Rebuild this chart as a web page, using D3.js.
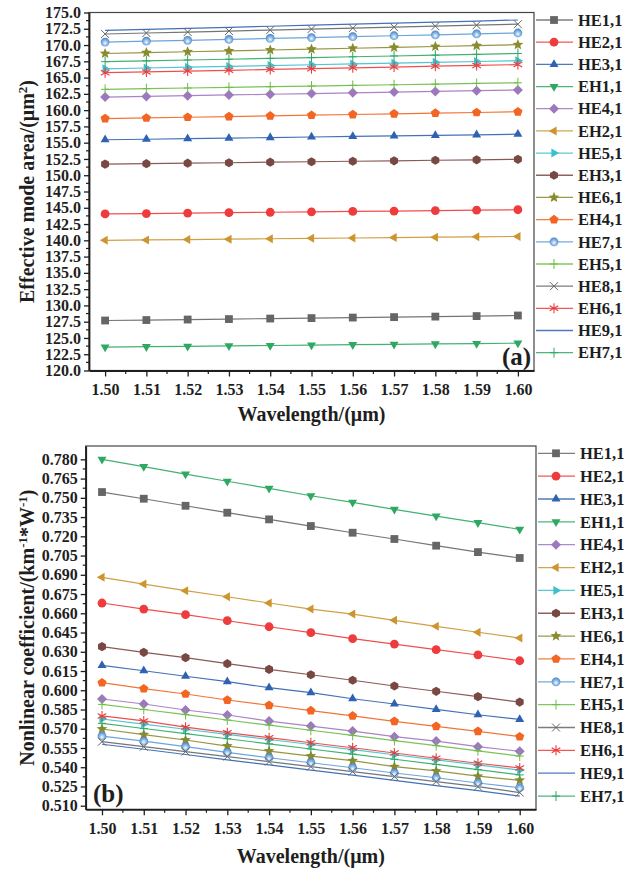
<!DOCTYPE html>
<html><head><meta charset="utf-8">
<script src="https://cdn.jsdelivr.net/npm/d3@7"></script>
<style>
html,body{margin:0;padding:0;background:#fff;}
svg{display:block;font-family:"Liberation Serif","Times New Roman",serif;font-weight:bold;}
</style></head><body>
<svg id="c" width="626" height="871"></svg>
<script>
// ---------- data ----------
const wavelengths = [1.50,1.51,1.52,1.53,1.54,1.55,1.56,1.57,1.58,1.59,1.60];
const modeNames = ["HE1,1","HE2,1","HE3,1","EH1,1","HE4,1","EH2,1","HE5,1","EH3,1","HE6,1","EH4,1","HE7,1","EH5,1","HE8,1","EH6,1","HE9,1","EH7,1"];

// (a) effective mode area (um^2)
const areaHE1 = [127.68,127.75,127.83,127.90,127.98,128.05,128.13,128.20,128.28,128.36,128.45];
const areaHE2 = [144.05,144.11,144.18,144.24,144.31,144.37,144.44,144.50,144.57,144.63,144.70];
const areaHE3 = [155.45,155.53,155.62,155.70,155.79,155.87,155.96,156.04,156.13,156.21,156.30];
const areaEH1 = [123.60,123.66,123.72,123.78,123.84,123.90,123.96,124.02,124.08,124.14,124.20];
const areaHE4 = [162.00,162.11,162.22,162.33,162.44,162.55,162.66,162.77,162.88,162.99,163.10];
const areaEH2 = [140.00,140.06,140.12,140.18,140.24,140.30,140.36,140.42,140.48,140.54,140.60];
const areaHE5 = [166.35,166.47,166.60,166.72,166.85,166.97,167.10,167.22,167.35,167.47,167.60];
const areaEH3 = [151.70,151.77,151.85,151.92,152.00,152.07,152.15,152.22,152.30,152.37,152.45];
const areaHE6 = [168.70,168.83,168.97,169.10,169.24,169.37,169.51,169.64,169.78,169.91,170.05];
const areaEH4 = [158.70,158.80,158.91,159.01,159.12,159.22,159.33,159.43,159.54,159.64,159.75];
const areaHE7 = [170.45,170.59,170.73,170.87,171.01,171.15,171.29,171.43,171.57,171.71,171.85];
const areaEH5 = [163.20,163.30,163.40,163.50,163.60,163.70,163.80,163.90,164.00,164.10,164.20];
const areaHE8 = [171.70,171.85,172.00,172.15,172.30,172.45,172.60,172.75,172.90,173.05,173.20];
const areaEH6 = [165.75,165.87,166.00,166.12,166.25,166.37,166.50,166.62,166.75,166.87,167.00];
const areaHE9 = [172.25,172.41,172.57,172.73,172.89,173.05,173.21,173.37,173.53,173.69,173.85];
const areaEH7 = [167.45,167.57,167.70,167.82,167.95,168.07,168.20,168.32,168.45,168.57,168.70];

// (b) nonlinear coefficient (km^-1 W^-1)
const gammaHE1 = [0.7545,0.7493,0.7438,0.7384,0.7332,0.7280,0.7228,0.7179,0.7127,0.7077,0.7031];
const gammaHE2 = [0.6680,0.6633,0.6589,0.6542,0.6495,0.6449,0.6402,0.6360,0.6316,0.6275,0.6230];
const gammaHE3 = [0.6194,0.6152,0.6109,0.6067,0.6020,0.5981,0.5934,0.5893,0.5851,0.5809,0.5773];
const gammaEH1 = [0.7800,0.7743,0.7685,0.7629,0.7574,0.7516,0.7465,0.7410,0.7358,0.7306,0.7254];
const gammaHE4 = [0.5932,0.5893,0.5846,0.5807,0.5760,0.5721,0.5682,0.5638,0.5604,0.5560,0.5524];
const gammaEH2 = [0.6880,0.6828,0.6776,0.6729,0.6680,0.6633,0.6594,0.6545,0.6498,0.6452,0.6407];
const gammaHE5 = [0.5776,0.5736,0.5696,0.5656,0.5616,0.5577,0.5537,0.5497,0.5458,0.5418,0.5378];
const gammaEH3 = [0.6340,0.6296,0.6254,0.6207,0.6163,0.6121,0.6078,0.6033,0.5992,0.5950,0.5908];
const gammaHE6 = [0.5698,0.5654,0.5612,0.5565,0.5526,0.5487,0.5451,0.5404,0.5371,0.5330,0.5298];
const gammaEH4 = [0.6059,0.6012,0.5971,0.5924,0.5883,0.5841,0.5800,0.5758,0.5719,0.5680,0.5638];
const gammaHE7 = [0.5643,0.5604,0.5560,0.5516,0.5474,0.5435,0.5396,0.5355,0.5318,0.5277,0.5240];
const gammaEH5 = [0.5890,0.5850,0.5810,0.5768,0.5728,0.5688,0.5648,0.5608,0.5568,0.5528,0.5487];
const gammaHE8 = [0.5599,0.5560,0.5522,0.5483,0.5444,0.5405,0.5366,0.5327,0.5288,0.5249,0.5202];
const gammaEH6 = [0.5800,0.5761,0.5712,0.5669,0.5630,0.5591,0.5552,0.5511,0.5470,0.5431,0.5394];
const gammaHE9 = [0.5579,0.5540,0.5499,0.5458,0.5418,0.5378,0.5338,0.5297,0.5257,0.5217,0.5175];
const gammaEH7 = [0.5742,0.5702,0.5662,0.5622,0.5582,0.5542,0.5502,0.5462,0.5422,0.5381,0.5340];

const areaTicks = [120.0,122.5,125.0,127.5,130.0,132.5,135.0,137.5,140.0,142.5,145.0,147.5,150.0,152.5,155.0,157.5,160.0,162.5,165.0,167.5,170.0,172.5,175.0];
const gammaTicks = [0.510,0.525,0.540,0.555,0.570,0.585,0.600,0.615,0.630,0.645,0.660,0.675,0.690,0.705,0.720,0.735,0.750,0.765,0.780];

// ---------- styles ----------
const modeColors = ["#666666","#ee3b3b","#2f62b0","#2ea862","#9e78be","#cc9530","#3cc0cc","#7a4842","#8a8a2e","#f26522","#5b9bd5","#6cbd45","#666666","#ee3b3b","#2f62b0","#2ea862"];
const modeMarkers = ["square","circle","triUp","triDown","diamond","triLeft","triRight","hexagon","star","pentagon","sphere","plus","cross","asterisk","none","plus"];

const areaSeries = [areaHE1,areaHE2,areaHE3,areaEH1,areaHE4,areaEH2,areaHE5,areaEH3,areaHE6,areaEH4,areaHE7,areaEH5,areaHE8,areaEH6,areaHE9,areaEH7];
const gammaSeries = [gammaHE1,gammaHE2,gammaHE3,gammaEH1,gammaHE4,gammaEH2,gammaHE5,gammaEH3,gammaHE6,gammaEH4,gammaHE7,gammaEH5,gammaHE8,gammaEH6,gammaHE9,gammaEH7];

const svg = d3.select("#c");
const defs = svg.append("defs");
const grad = defs.append("radialGradient").attr("id","sph").attr("cx","50%").attr("cy","58%").attr("r","60%").attr("fx","50%").attr("fy","62%");
grad.append("stop").attr("offset","0%").attr("stop-color","#ffffff");
grad.append("stop").attr("offset","40%").attr("stop-color","#9cc4ec");
grad.append("stop").attr("offset","100%").attr("stop-color","#3f7ec0");

function poly(n, r, rot){
  const pts = [];
  for(let k=0;k<n;k++){const a = rot + k*2*Math.PI/n; pts.push([r*Math.cos(a), r*Math.sin(a)]);}
  return "M"+pts.map(p=>p[0].toFixed(2)+","+p[1].toFixed(2)).join("L")+"Z";
}
function starPath(r){
  const pts=[];
  for(let k=0;k<10;k++){const a=-Math.PI/2+k*Math.PI/5; const rr=(k%2===0)?r:r*0.45; pts.push([rr*Math.cos(a),rr*Math.sin(a)]);}
  return "M"+pts.map(p=>p[0].toFixed(2)+","+p[1].toFixed(2)).join("L")+"Z";
}
function drawMarker(g, type, color, cx, cy){
  const t = `translate(${cx},${cy})`;
  const r = 4.2;
  switch(type){
    case "square": g.append("rect").attr("x",cx-3.9).attr("y",cy-3.9).attr("width",7.8).attr("height",7.8).attr("fill",color); break;
    case "circle": g.append("circle").attr("cx",cx).attr("cy",cy).attr("r",4.4).attr("fill",color); break;
    case "sphere": g.append("circle").attr("cx",cx).attr("cy",cy).attr("r",4.4).attr("fill","url(#sph)"); break;
    case "triUp": g.append("path").attr("transform",t).attr("d",poly(3,5.2,-Math.PI/2)).attr("fill",color); break;
    case "triDown": g.append("path").attr("transform",t).attr("d",poly(3,5.2,Math.PI/2)).attr("fill",color); break;
    case "triLeft": g.append("path").attr("transform",t).attr("d",poly(3,5.2,Math.PI)).attr("fill",color); break;
    case "triRight": g.append("path").attr("transform",t).attr("d",poly(3,5.2,0)).attr("fill",color); break;
    case "diamond": g.append("path").attr("transform",t).attr("d",poly(4,5.0,0)).attr("fill",color); break;
    case "hexagon": g.append("path").attr("transform",t).attr("d",poly(6,4.6,Math.PI/6)).attr("fill",color); break;
    case "pentagon": g.append("path").attr("transform",t).attr("d",poly(5,4.8,-Math.PI/2)).attr("fill",color); break;
    case "star": g.append("path").attr("transform",t).attr("d",starPath(5.6)).attr("fill",color); break;
    case "plus": g.append("path").attr("transform",t).attr("d","M0,-5V5M-4,0H4").attr("stroke",color).attr("stroke-width",1).attr("fill","none"); break;
    case "cross": g.append("path").attr("transform",t).attr("d","M-4,-4L4,4M-4,4L4,-4").attr("stroke",color).attr("stroke-width",1).attr("fill","none"); break;
    case "asterisk": g.append("path").attr("transform",t).attr("d","M0,-5V5M-4.3,-2.5L4.3,2.5M-4.3,2.5L4.3,-2.5").attr("stroke",color).attr("stroke-width",1.1).attr("fill","none"); break;
    default: break;
  }
}

function panel(o){
  const x = d3.scaleLinear().domain([1.4961,1.6039]).range([o.left,o.right]);
  const y = d3.scaleLinear().domain(o.yDomain).range([o.bottom,o.top]);
  const g = svg.append("g");
  const ink = "#1e1e1e";

  // series
  const line = d3.line().x(d=>x(d.w)).y(d=>y(d.v));
  o.series.forEach((vals,i)=>{
    const pts = wavelengths.map((w,j)=>({w:w,v:vals[j]}));
    g.append("path").datum(pts).attr("d",line).attr("fill","none").attr("stroke",modeColors[i]).attr("stroke-width",1.2).attr("stroke-opacity",0.9);
  });
  o.series.forEach((vals,i)=>{
    wavelengths.forEach((w,j)=>drawMarker(g, modeMarkers[i], modeColors[i], x(w), y(vals[j])));
  });

  // frame
  g.append("rect").attr("x",o.left).attr("y",o.top).attr("width",o.right-o.left).attr("height",o.bottom-o.top)
    .attr("fill","none").attr("stroke","#444").attr("stroke-width",1.2);

  // axes
  const xa = g.append("g").attr("transform",`translate(0,${o.bottom})`)
    .call(d3.axisBottom(x).tickValues(wavelengths).tickFormat(d3.format(".2f")).tickSize(6).tickPadding(4).tickSizeOuter(0));
  const ya = g.append("g").attr("transform",`translate(${o.left},0)`)
    .call(d3.axisLeft(y).tickValues(o.ticks).tickFormat(d3.format(o.fmt)).tickSize(5).tickPadding(3).tickSizeOuter(0));
  [xa,ya].forEach(a=>{
    a.select(".domain").attr("stroke",ink).attr("stroke-width",1.8);
    a.selectAll(".tick line").attr("stroke",ink).attr("stroke-width",1.3);
    a.selectAll(".tick text").attr("fill",ink).attr("font-size",16).attr("font-family","Liberation Serif").attr("font-weight","bold");
  });
  xa.selectAll(".tick text").attr("dy","0.9em");
  // minor ticks
  const xm = d3.pairs(wavelengths).map(p=>(p[0]+p[1])/2);
  g.append("g").selectAll("line").data(xm).join("line")
    .attr("x1",d=>x(d)).attr("x2",d=>x(d)).attr("y1",o.bottom).attr("y2",o.bottom+3.5).attr("stroke",ink).attr("stroke-width",1.2);
  const ym = d3.pairs(o.ticks).map(p=>(p[0]+p[1])/2);
  g.append("g").selectAll("line").data(ym).join("line")
    .attr("y1",d=>y(d)).attr("y2",d=>y(d)).attr("x1",o.left).attr("x2",o.left-3).attr("stroke",ink).attr("stroke-width",1.2);

  // titles
  g.append("text").attr("x",(o.left+o.right)/2).attr("y",o.xTitleY).attr("text-anchor","middle")
    .attr("font-size",20).attr("fill",ink).text("Wavelength/(μm)");
  const yt = g.append("text").attr("transform",`translate(${o.yTitleX},${(o.top+o.bottom)/2}) rotate(-90)`)
    .attr("text-anchor","middle").attr("font-size",20).attr("fill",ink);
  o.yTitle.forEach(part=>{
    const ts = yt.append("tspan").text(part.t);
    if(part.sup){ ts.attr("font-size",13).attr("baseline-shift","super"); }
  });
  g.append("text").attr("x",o.tag[0]).attr("y",o.tag[1]).attr("font-size",25).attr("fill",ink).text(o.tagText);

  // legend
  modeNames.forEach((name,i)=>{
    const ly = o.legTop + i*o.legStep;
    g.append("line").attr("x1",o.legX).attr("x2",o.legX+37).attr("y1",ly).attr("y2",ly)
      .attr("stroke",modeColors[i]).attr("stroke-width",1.3).attr("stroke-opacity",0.85);
    drawMarker(g, modeMarkers[i], modeColors[i], o.legX+18, ly);
    g.append("text").attr("x",o.legX+42).attr("y",ly).attr("dy","0.35em").attr("font-size",16.5).attr("fill",ink).text(name);
  });
}

panel({left:89,right:534,top:12.5,bottom:370.5,yDomain:[120,175],series:areaSeries,ticks:areaTicks,fmt:".1f",
  xTitleY:421, yTitleX:34, yTitle:[{t:"Effective mode area/(μm"},{t:"2",sup:true},{t:")"}],
  tag:[502,365], tagText:"(a)", legX:536, legTop:20, legStep:22.18});

panel({left:85.7,right:536,top:446,bottom:809.3,yDomain:[0.5072,0.7904],series:gammaSeries,ticks:gammaTicks,fmt:".3f",
  xTitleY:863, yTitleX:34, yTitle:[{t:"Nonlinear coefficient/(km"},{t:"-1",sup:true},{t:"*W"},{t:"-1",sup:true},{t:")"}],
  tag:[93,802], tagText:"(b)", legX:538, legTop:453.3, legStep:22.85});
</script>
</body></html>
